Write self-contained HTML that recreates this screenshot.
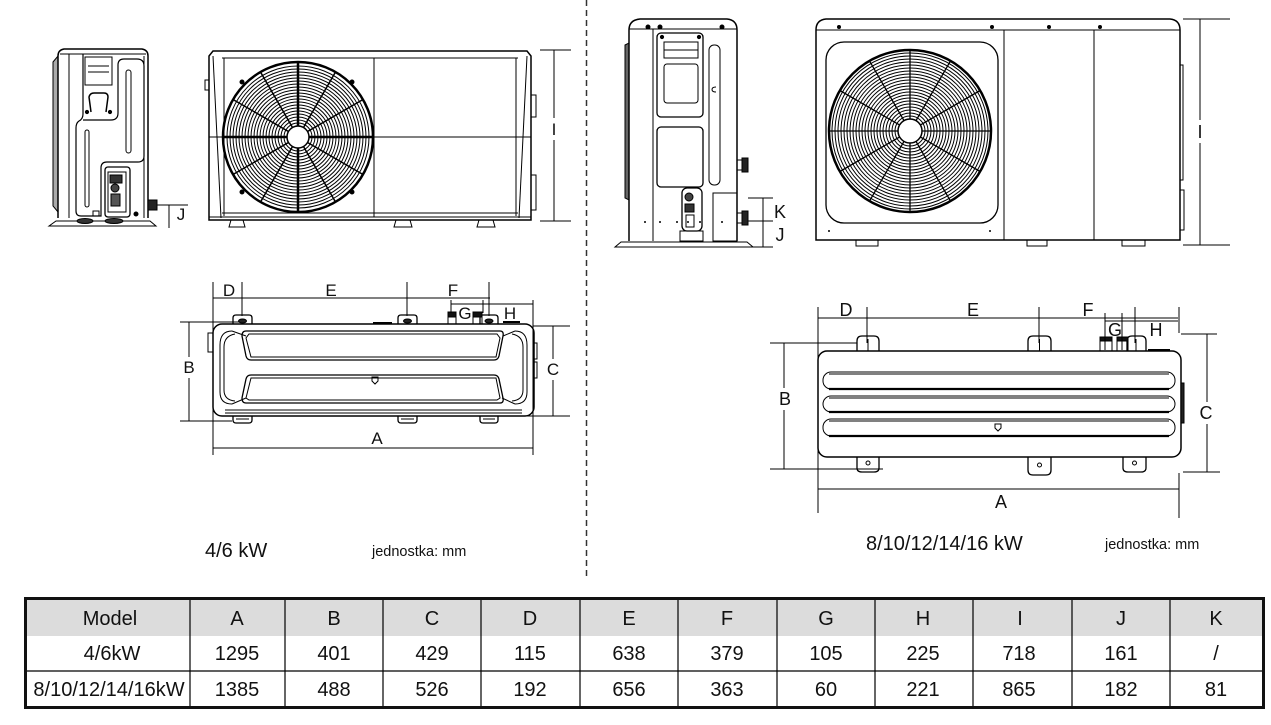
<!DOCTYPE html>
<html><head><meta charset="utf-8">
<style>
html,body{margin:0;padding:0;background:#fff;}
svg{display:block;}
text{font-family:"Liberation Sans",Arial,sans-serif;fill:#111;}
</style></head><body>
<svg width="1271" height="725" viewBox="0 0 1271 725" xmlns="http://www.w3.org/2000/svg">
<rect width="1271" height="725" fill="#fff"/>

<!-- dashed divider -->
<line x1="586.5" y1="0" x2="586.5" y2="578" stroke="#333" stroke-width="1.5" stroke-dasharray="6,4"/>

<!-- ================= LEFT SIDE VIEW 4/6 ================= -->
<g fill="none" stroke="#000" stroke-width="1">
  <path d="M53,62 L58,56 L58,212 L53,206 Z" fill="#aaa"/>
  <path d="M58,218 L58,56 Q58,50 64,49 L142,49 Q148,50 148,56 L148,218" stroke-width="1.5"/>
  <line x1="60" y1="54" x2="146" y2="54"/>
  <line x1="69" y1="54" x2="69" y2="218"/>
  <line x1="144" y1="56" x2="144" y2="218"/>
  <rect x="85" y="57" width="27" height="28"/>
  <line x1="88" y1="66" x2="109" y2="66"/>
  <line x1="88" y1="72" x2="109" y2="72"/>
  <path d="M91,112 L89,97 Q90,93 94,93 L104,93 Q108,93 108,97 L106,112" stroke-width="1.5"/>
  <circle cx="87" cy="112" r="1.6" fill="#000"/>
  <circle cx="110" cy="112" r="1.6" fill="#000"/>
  <path d="M83,54 L83,114 Q83,119 79,121 Q76,123 76,128 L76,211 Q76,216 81,216 L101,216 L101,168 Q101,162 107,162 L138,162 Q144,162 144,156 L144,66 Q144,59 137,59 L124,59 Q118,59 118,65 L118,113 Q118,120 111,120 L83,120" stroke-width="1.2"/>
  <rect x="85" y="130" width="4" height="77" rx="2"/>
  <rect x="126" y="70" width="5" height="83" rx="2.5"/>
  <rect x="105" y="167" width="25" height="50" rx="3" stroke-width="1.3"/>
  <rect x="108" y="172" width="18" height="40"/>
  <rect x="110" y="175" width="12" height="8" fill="#333"/>
  <circle cx="115" cy="188" r="4" fill="#444"/>
  <rect x="111" y="194" width="9" height="12" fill="#555"/>
  <rect x="148" y="200" width="9" height="10" fill="#222"/>
  <rect x="93" y="211" width="6" height="5"/>
  <circle cx="136" cy="214" r="2" fill="#000"/>
  <path d="M49,226 L56,221 L150,221 L156,226 Z"/>
  <ellipse cx="85" cy="221" rx="8" ry="2.5" fill="#333"/>
  <ellipse cx="114" cy="221" rx="9" ry="2.5" fill="#333"/>
  <line x1="157" y1="205" x2="188" y2="205"/>
  <line x1="169" y1="205" x2="169" y2="228"/>
</g>
<text x="181" y="220" font-size="17" text-anchor="middle">J</text>

<!-- ================= FRONT VIEW 4/6 ================= -->
<g fill="none" stroke="#000" stroke-width="1">
  <path d="M209,220 L209,56 L213,51 L527,51 L531,56 L531,220 Z" stroke-width="1.5"/>
  <line x1="213" y1="56" x2="221" y2="218"/>
  <line x1="527" y1="56" x2="519" y2="218"/>
  <line x1="222" y1="58" x2="518" y2="58"/>
  <line x1="224" y1="58" x2="224" y2="216"/>
  <line x1="516" y1="58" x2="516" y2="216"/>
  <line x1="222" y1="213" x2="518" y2="213"/>
  <line x1="209" y1="217" x2="531" y2="217"/>
  <line x1="374" y1="58" x2="374" y2="217"/>
  <line x1="209" y1="137" x2="531" y2="137"/>
  <rect x="531" y="95" width="5" height="22"/>
  <rect x="531" y="175" width="5" height="35"/>
  <rect x="205" y="80" width="4" height="10"/>
  <path d="M231,220 L229,227 L245,227 L243,220"/>
  <path d="M396,220 L394,227 L412,227 L410,220"/>
  <path d="M479,220 L477,227 L495,227 L493,220"/>
  <!-- fan -->
  <g stroke-width="1">
    <circle cx="298" cy="137" r="14"/><circle cx="298" cy="137" r="17"/><circle cx="298" cy="137" r="20"/>
    <circle cx="298" cy="137" r="23"/><circle cx="298" cy="137" r="26"/><circle cx="298" cy="137" r="29"/>
    <circle cx="298" cy="137" r="32"/><circle cx="298" cy="137" r="35"/><circle cx="298" cy="137" r="38"/>
    <circle cx="298" cy="137" r="41"/><circle cx="298" cy="137" r="44"/><circle cx="298" cy="137" r="47"/>
    <circle cx="298" cy="137" r="50"/><circle cx="298" cy="137" r="53"/><circle cx="298" cy="137" r="56"/>
    <circle cx="298" cy="137" r="59"/><circle cx="298" cy="137" r="62"/><circle cx="298" cy="137" r="65"/>
    <circle cx="298" cy="137" r="68"/><circle cx="298" cy="137" r="71"/>
  </g>
  <circle cx="298" cy="137" r="75" stroke-width="2.5"/>
  <g stroke-width="1.5">
    <line x1="223" y1="137" x2="373" y2="137" stroke-width="2.5"/>
    <line x1="233" y1="99.5" x2="363" y2="174.5"/>
    <line x1="260.5" y1="72" x2="335.5" y2="202"/>
    <line x1="298" y1="62" x2="298" y2="212" stroke-width="2.5"/>
    <line x1="335.5" y1="72" x2="260.5" y2="202"/>
    <line x1="363" y1="99.5" x2="233" y2="174.5"/>
  </g>
  <circle cx="298" cy="137" r="11" fill="#fff" stroke-width="1.5"/>
  <circle cx="242" cy="82" r="2" fill="#000"/>
  <circle cx="352" cy="82" r="2" fill="#000"/>
  <circle cx="242" cy="192" r="2" fill="#000"/>
  <circle cx="352" cy="192" r="2" fill="#000"/>
  <!-- I dim -->
  <line x1="540" y1="50" x2="571" y2="50"/>
  <line x1="540" y1="221" x2="571" y2="221"/>
  <line x1="554" y1="50" x2="554" y2="118"/>
  <line x1="554" y1="140" x2="554" y2="221"/>
</g>
<text x="554" y="135" font-size="17" text-anchor="middle">I</text>

<!-- ================= TOP VIEW 4/6 ================= -->
<g fill="none" stroke="#000" stroke-width="1">
  <rect x="213" y="324" width="321" height="92" rx="9" stroke-width="1.5"/>
  <path d="M232,331 Q220,331 220,345 L220,392 Q220,404 232,404"/>
  <path d="M235,334 Q224,336 224,347 L224,390 Q224,400 235,401"/>
  <path d="M515,331 Q527,331 527,345 L527,392 Q527,404 515,404"/>
  <path d="M512,334 Q523,336 523,347 L523,390 Q523,400 512,401"/>
  <path d="M246,331 L500,331 Q504,331 503,336 L499,356 Q498,360 494,360 L251,360 Q247,360 246,356 L242,336 Q242,331 246,331 Z" stroke-width="1.3"/>
  <path d="M249,334 L497,334 L500,338 L496,357 L251,357 L246,338 Z"/>
  <path d="M251,375 L494,375 Q498,375 499,379 L503,398 Q504,403 500,403 L246,403 Q242,403 242,398 L246,379 Q247,375 251,375 Z" stroke-width="1.3"/>
  <path d="M251,378 L496,378 L500,398 L497,400 L249,400 L246,398 Z"/>
  <path d="M232,331 L246,336 M232,404 L246,398 M515,331 L503,336 M515,404 L502,398"/>
  <line x1="225" y1="410" x2="522" y2="410"/>
  <line x1="225" y1="413" x2="522" y2="413"/>
  <path d="M372,377 L378,377 L378,381 L375,384 L372,381 Z"/>
  <!-- lugs top -->
  <path d="M233,324 L233,318 Q233,315 236,315 L249,315 Q252,315 252,318 L252,324" stroke-width="1.3"/>
  <ellipse cx="242.5" cy="321" rx="4" ry="2" fill="#222"/>
  <path d="M398,324 L398,318 Q398,315 401,315 L414,315 Q417,315 417,318 L417,324" stroke-width="1.3"/>
  <ellipse cx="407.5" cy="321" rx="4" ry="2" fill="#222"/>
  <path d="M480,324 L480,318 Q480,315 483,315 L495,315 Q498,315 498,318 L498,324" stroke-width="1.3"/>
  <ellipse cx="489" cy="321" rx="4" ry="2" fill="#222"/>
  <rect x="448" y="312" width="8" height="12"/>
  <rect x="448" y="312" width="8" height="5" fill="#111"/>
  <rect x="473" y="312" width="9" height="12"/>
  <rect x="473" y="312" width="9" height="5" fill="#111"/>
  <line x1="373" y1="323" x2="392" y2="323" stroke-width="2"/>
  <line x1="503" y1="322" x2="520" y2="322" stroke-width="2"/>
  <!-- lugs bottom -->
  <path d="M233,416 L233,420 Q233,423 236,423 L249,423 Q252,423 252,420 L252,416" stroke-width="1.3"/>
  <line x1="236" y1="419" x2="249" y2="419"/>
  <path d="M398,416 L398,420 Q398,423 401,423 L414,423 Q417,423 417,420 L417,416" stroke-width="1.3"/>
  <line x1="401" y1="419" x2="414" y2="419"/>
  <path d="M480,416 L480,420 Q480,423 483,423 L495,423 Q498,423 498,420 L498,416" stroke-width="1.3"/>
  <line x1="483" y1="419" x2="495" y2="419"/>
  <rect x="208" y="333" width="5" height="19"/>
  <rect x="534" y="343" width="3" height="16"/>
  <rect x="534" y="362" width="3" height="16"/>
  <!-- dims -->
  <line x1="213" y1="298" x2="490" y2="298"/>
  <line x1="213" y1="282" x2="213" y2="455"/>
  <line x1="242" y1="282" x2="242" y2="316"/>
  <line x1="407" y1="282" x2="407" y2="316"/>
  <line x1="489" y1="282" x2="489" y2="316"/>
  <line x1="451" y1="304" x2="533" y2="304"/>
  <line x1="451" y1="300" x2="451" y2="313"/>
  <line x1="483" y1="300" x2="483" y2="313"/>
  <line x1="533" y1="300" x2="533" y2="455"/>
  <line x1="180" y1="322" x2="240" y2="322"/>
  <line x1="180" y1="421" x2="232" y2="421"/>
  <line x1="189" y1="322" x2="189" y2="357"/>
  <line x1="189" y1="378" x2="189" y2="421"/>
  <line x1="533" y1="326" x2="570" y2="326"/>
  <line x1="523" y1="416" x2="570" y2="416"/>
  <line x1="553" y1="326" x2="553" y2="359"/>
  <line x1="553" y1="380" x2="553" y2="416"/>
  <line x1="213" y1="448" x2="533" y2="448"/>
</g>
<g font-size="17" text-anchor="middle">
  <text x="229" y="296">D</text>
  <text x="331" y="296">E</text>
  <text x="453" y="296">F</text>
  <text x="465" y="319">G</text>
  <text x="510" y="319">H</text>
  <text x="189" y="373">B</text>
  <text x="553" y="375">C</text>
  <text x="377" y="444">A</text>
</g>

<text x="205" y="557" font-size="20">4/6 kW</text>
<text x="372" y="556" font-size="14.5">jednostka: mm</text>

<!-- ================= RIGHT SIDE VIEW 8-16 ================= -->
<g fill="none" stroke="#000" stroke-width="1">
  <path d="M625,45 L629,43 L629,200 L625,198 Z" fill="#666"/>
  <path d="M629,241 L629,30 Q629,20 640,19 L727,19 Q737,20 737,30 L737,241" stroke-width="1.5"/>
  <line x1="629" y1="29" x2="737" y2="29"/>
  <line x1="653" y1="29" x2="653" y2="241"/>
  <rect x="657" y="33" width="46" height="84" rx="4" stroke-width="1.3"/>
  <rect x="664" y="42" width="34" height="16"/>
  <line x1="664" y1="50" x2="698" y2="50"/>
  <rect x="664" y="64" width="34" height="39" rx="3"/>
  <rect x="657" y="127" width="46" height="60" rx="4" stroke-width="1.3"/>
  <rect x="709" y="45" width="11" height="140" rx="5"/>
  <path d="M716,87 Q712,87 712,89.5 Q712,92 716,92"/>
  <circle cx="662" cy="37" r="1.6" fill="#000"/>
  <circle cx="699" cy="37" r="1.6" fill="#000"/>
  <circle cx="648" cy="27" r="2" fill="#000"/>
  <circle cx="660" cy="27" r="2" fill="#000"/>
  <circle cx="722" cy="27" r="2" fill="#000"/>
  <rect x="682" y="188" width="20" height="43" rx="5" stroke-width="1.3"/>
  <circle cx="689" cy="197" r="4" fill="#444"/>
  <rect x="685" y="204" width="9" height="8" fill="#333"/>
  <rect x="686" y="215" width="8" height="12"/>
  <rect x="713" y="193" width="24" height="48"/>
  <rect x="680" y="231" width="23" height="10"/>
  <rect x="737" y="160" width="5" height="10"/>
  <rect x="742" y="158" width="6" height="14" fill="#222"/>
  <rect x="737" y="213" width="5" height="10"/>
  <rect x="742" y="211" width="6" height="14" fill="#222"/>
  <path d="M615,247 L621,242 L747,242 L753,247 Z"/>
  <g fill="#000" stroke="none">
    <circle cx="645" cy="222" r="1"/><circle cx="660" cy="222" r="1"/><circle cx="677" cy="222" r="1"/>
    <circle cx="688" cy="222" r="1"/><circle cx="700" cy="222" r="1"/><circle cx="722" cy="222" r="1"/>
  </g>
  <line x1="748" y1="198" x2="773" y2="198"/>
  <line x1="748" y1="221" x2="773" y2="221"/>
  <line x1="740" y1="247" x2="773" y2="247"/>
  <line x1="763" y1="198" x2="763" y2="247"/>
</g>
<text x="780" y="218" font-size="18" text-anchor="middle">K</text>
<text x="780" y="241" font-size="18" text-anchor="middle">J</text>

<!-- ================= FRONT VIEW 8-16 ================= -->
<g fill="none" stroke="#000" stroke-width="1">
  <path d="M816,240 L816,30 Q816,20 826,19 L1170,19 Q1180,20 1180,30 L1180,240 Z" stroke-width="1.5"/>
  <line x1="816" y1="30" x2="1180" y2="30"/>
  <line x1="1004" y1="30" x2="1004" y2="240"/>
  <line x1="1094" y1="30" x2="1094" y2="240"/>
  <rect x="826" y="42" width="172" height="181" rx="18" stroke-width="1.3"/>
  <g fill="#000" stroke="none">
    <circle cx="839" cy="27" r="2"/><circle cx="992" cy="27" r="2"/>
    <circle cx="1049" cy="27" r="2"/><circle cx="1100" cy="27" r="2"/>
    <circle cx="829" cy="231" r="1"/><circle cx="990" cy="231" r="1"/>
  </g>
  <rect x="1180" y="65" width="3" height="115"/>
  <rect x="1180" y="190" width="4" height="40"/>
  <path d="M856,240 L856,246 L878,246 L878,240"/>
  <path d="M1027,240 L1027,246 L1047,246 L1047,240"/>
  <path d="M1122,240 L1122,246 L1145,246 L1145,240"/>
  <!-- fan -->
  <g stroke-width="1">
    <circle cx="910" cy="131" r="15"/><circle cx="910" cy="131" r="18"/><circle cx="910" cy="131" r="21"/>
    <circle cx="910" cy="131" r="24"/><circle cx="910" cy="131" r="27"/><circle cx="910" cy="131" r="30"/>
    <circle cx="910" cy="131" r="33"/><circle cx="910" cy="131" r="36"/><circle cx="910" cy="131" r="39"/>
    <circle cx="910" cy="131" r="42"/><circle cx="910" cy="131" r="45"/><circle cx="910" cy="131" r="48"/>
    <circle cx="910" cy="131" r="51"/><circle cx="910" cy="131" r="54"/><circle cx="910" cy="131" r="57"/>
    <circle cx="910" cy="131" r="60"/><circle cx="910" cy="131" r="63"/><circle cx="910" cy="131" r="66"/>
    <circle cx="910" cy="131" r="69"/><circle cx="910" cy="131" r="72"/><circle cx="910" cy="131" r="75"/>
    <circle cx="910" cy="131" r="78"/>
  </g>
  <circle cx="910" cy="131" r="81" stroke-width="2.5"/>
  <g stroke-width="1.3">
    <line x1="829" y1="131" x2="991" y2="131"/>
    <line x1="839.9" y1="90.5" x2="980.1" y2="171.5"/>
    <line x1="869.5" y1="60.9" x2="950.5" y2="201.1"/>
    <line x1="910" y1="50" x2="910" y2="212"/>
    <line x1="950.5" y1="60.9" x2="869.5" y2="201.1"/>
    <line x1="980.1" y1="90.5" x2="839.9" y2="171.5"/>
  </g>
  <circle cx="910" cy="131" r="12" fill="#fff" stroke-width="1.5"/>
  <!-- I dim -->
  <line x1="1183" y1="19" x2="1230" y2="19"/>
  <line x1="1183" y1="245" x2="1230" y2="245"/>
  <line x1="1200" y1="19" x2="1200" y2="120"/>
  <line x1="1200" y1="143" x2="1200" y2="245"/>
</g>
<text x="1200" y="138" font-size="18" text-anchor="middle">I</text>

<!-- ================= TOP VIEW 8-16 ================= -->
<g fill="none" stroke="#000" stroke-width="1">
  <rect x="818" y="351" width="363" height="106" rx="9" stroke-width="1.5"/>
  <rect x="823" y="372" width="352" height="17" rx="8"/>
  <line x1="829" y1="389" x2="1169" y2="389" stroke-width="2.2"/>
  <line x1="829" y1="374" x2="1169" y2="374"/>
  <rect x="823" y="396" width="352" height="16" rx="8"/>
  <line x1="829" y1="412" x2="1169" y2="412" stroke-width="2.2"/>
  <line x1="829" y1="398" x2="1169" y2="398"/>
  <rect x="823" y="419" width="352" height="17" rx="8"/>
  <line x1="829" y1="436" x2="1169" y2="436" stroke-width="2.2"/>
  <line x1="829" y1="421" x2="1169" y2="421"/>
  <path d="M995,424 L1001,424 L1001,428 L998,431 L995,428 Z"/>
  <!-- lugs -->
  <path d="M857,351 L857,341 Q857,336 862,336 L874,336 Q879,336 879,341 L879,351" stroke-width="1.3"/>
  <line x1="868" y1="339" x2="868" y2="351"/>
  <path d="M1028,351 L1028,341 Q1028,336 1033,336 L1046,336 Q1051,336 1051,341 L1051,351" stroke-width="1.3"/>
  <line x1="1039.5" y1="339" x2="1039.5" y2="351"/>
  <path d="M1127,351 L1127,341 Q1127,336 1132,336 L1141,336 Q1146,336 1146,341 L1146,351" stroke-width="1.3"/>
  <line x1="1136" y1="339" x2="1136" y2="351"/>
  <rect x="1100" y="337" width="12" height="14"/>
  <rect x="1100" y="337" width="12" height="4" fill="#111"/>
  <rect x="1117" y="337" width="11" height="14"/>
  <rect x="1117" y="337" width="11" height="4" fill="#111"/>
  <line x1="1148" y1="350" x2="1170" y2="350" stroke-width="2"/>
  <path d="M857,457 L857,468 Q857,472 862,472 L874,472 Q879,472 879,468 L879,457" stroke-width="1.3"/>
  <circle cx="868" cy="463" r="2"/>
  <path d="M1028,457 L1028,470 Q1028,475 1033,475 L1046,475 Q1051,475 1051,470 L1051,457" stroke-width="1.3"/>
  <circle cx="1039.5" cy="465" r="2"/>
  <path d="M1123,457 L1123,468 Q1123,472 1128,472 L1141,472 Q1146,472 1146,468 L1146,457" stroke-width="1.3"/>
  <circle cx="1134.5" cy="463" r="2"/>
  <rect x="1181" y="383" width="3" height="40" fill="#222"/>
  <!-- dims -->
  <line x1="818" y1="318" x2="1178" y2="318"/>
  <line x1="818" y1="307" x2="818" y2="513"/>
  <line x1="867" y1="307" x2="867" y2="343"/>
  <line x1="1039" y1="307" x2="1039" y2="343"/>
  <line x1="1135" y1="307" x2="1135" y2="343"/>
  <line x1="1179" y1="307" x2="1179" y2="333"/>
  <line x1="1179" y1="473" x2="1179" y2="518"/>
  <line x1="1105" y1="321" x2="1178" y2="321"/>
  <line x1="1105" y1="313" x2="1105" y2="350"/>
  <line x1="1122" y1="313" x2="1122" y2="350"/>
  <line x1="770" y1="343" x2="857" y2="343"/>
  <line x1="770" y1="469" x2="883" y2="469"/>
  <line x1="784" y1="343" x2="784" y2="388"/>
  <line x1="784" y1="410" x2="784" y2="469"/>
  <line x1="1181" y1="334" x2="1217" y2="334"/>
  <line x1="1183" y1="472" x2="1220" y2="472"/>
  <line x1="1207" y1="334" x2="1207" y2="402"/>
  <line x1="1207" y1="424" x2="1207" y2="472"/>
  <line x1="818" y1="489" x2="1179" y2="489"/>
</g>
<g font-size="18" text-anchor="middle">
  <text x="846" y="316">D</text>
  <text x="973" y="316">E</text>
  <text x="1088" y="316">F</text>
  <text x="1115" y="336">G</text>
  <text x="1156" y="336">H</text>
  <text x="785" y="405">B</text>
  <text x="1206" y="419">C</text>
  <text x="1001" y="508">A</text>
</g>

<text x="866" y="550" font-size="20">8/10/12/14/16 kW</text>
<text x="1105" y="549" font-size="14.5">jednostka: mm</text>

<!-- ================= TABLE ================= -->
<rect x="25" y="598" width="1238" height="38" fill="#dcdcdc"/>
<g stroke="#000" stroke-width="1.2">
  <line x1="25" y1="671" x2="1263" y2="671"/>
  <line x1="190" y1="598" x2="190" y2="708"/>
  <line x1="285" y1="598" x2="285" y2="708"/>
  <line x1="383" y1="598" x2="383" y2="708"/>
  <line x1="481" y1="598" x2="481" y2="708"/>
  <line x1="580" y1="598" x2="580" y2="708"/>
  <line x1="678" y1="598" x2="678" y2="708"/>
  <line x1="777" y1="598" x2="777" y2="708"/>
  <line x1="875" y1="598" x2="875" y2="708"/>
  <line x1="973" y1="598" x2="973" y2="708"/>
  <line x1="1072" y1="598" x2="1072" y2="708"/>
  <line x1="1170" y1="598" x2="1170" y2="708"/>
</g>
<rect x="25.5" y="598.5" width="1238" height="109" fill="none" stroke="#111" stroke-width="3"/>
<g font-size="20" text-anchor="middle">
  <text x="110" y="625">Model</text>
  <text x="237" y="625">A</text>
  <text x="334" y="625">B</text>
  <text x="432" y="625">C</text>
  <text x="530" y="625">D</text>
  <text x="629" y="625">E</text>
  <text x="727" y="625">F</text>
  <text x="826" y="625">G</text>
  <text x="923" y="625">H</text>
  <text x="1020" y="625">I</text>
  <text x="1121" y="625">J</text>
  <text x="1216" y="625">K</text>

  <text x="112" y="660">4/6kW</text>
  <text x="237" y="660">1295</text>
  <text x="334" y="660">401</text>
  <text x="432" y="660">429</text>
  <text x="530" y="660">115</text>
  <text x="629" y="660">638</text>
  <text x="727" y="660">379</text>
  <text x="826" y="660">105</text>
  <text x="923" y="660">225</text>
  <text x="1019" y="660">718</text>
  <text x="1121" y="660">161</text>
  <text x="1216" y="660">/</text>

  <text x="109" y="696">8/10/12/14/16kW</text>
  <text x="237" y="696">1385</text>
  <text x="334" y="696">488</text>
  <text x="432" y="696">526</text>
  <text x="530" y="696">192</text>
  <text x="629" y="696">656</text>
  <text x="727" y="696">363</text>
  <text x="826" y="696">60</text>
  <text x="923" y="696">221</text>
  <text x="1019" y="696">865</text>
  <text x="1121" y="696">182</text>
  <text x="1216" y="696">81</text>
</g>
</svg>
</body></html>
